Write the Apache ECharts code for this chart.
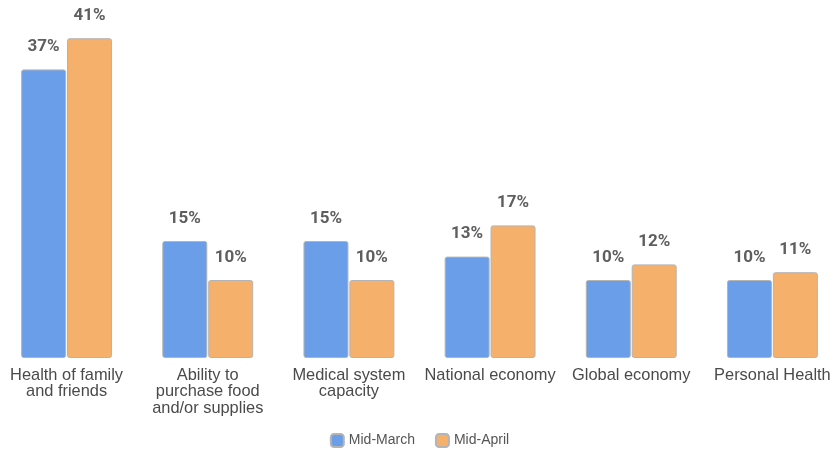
<!DOCTYPE html>
<html>
<head>
<meta charset="utf-8">
<script src="https://cdn.jsdelivr.net/npm/echarts@6/dist/echarts.min.js"></script>
<style>
  html, body { margin: 0; padding: 0; background: #fff; overflow: hidden; }
  #chart { width: 847px; height: 450px; margin-left: -4px; }
</style>
</head>
<body>
<div id="chart"></div>
<script>
// Top concerns, share of respondents (%)
const categories = [
  'Health of family\nand friends',
  'Ability to\npurchase food\nand/or supplies',
  'Medical system\ncapacity',
  'National economy',
  'Global economy',
  'Personal Health'
];
const seriesNames = ['Mid-March', 'Mid-April'];
const midMarch = [37, 15, 15, 13, 10, 10];
const midApril = [41, 10, 10, 17, 12, 11];
const colors = ['#6b9ee8', '#f5b06b'];

const chart = echarts.init(document.getElementById('chart'));

function barSeries(name, data, color) {
  return {
    name: name,
    type: 'bar',
    data: data,
    barWidth: 45,
    barGap: '2%',
    itemStyle: {
      color: color,
      borderColor: '#b4b4b4',
      borderWidth: 1,
      borderRadius: 2
    },
    label: {
      show: true,
      position: 'top',
      distance: 14,
      formatter: '{c}%',
      fontFamily: 'Roboto',
      fontWeight: 'bold',
      fontSize: 17,
      color: '#5e5e5e',
      textBorderColor: '#ffffff',
      textBorderWidth: 3
    }
  };
}

chart.setOption({
  animation: false,
  color: colors,
  grid: { left: 0, right: 0, top: 7, bottom: 92, containLabel: false },
  xAxis: {
    type: 'category',
    data: categories,
    axisLine: { show: false },
    axisTick: { show: false },
    axisLabel: {
      interval: 0,
      margin: 9,
      fontFamily: 'Liberation Sans',
      fontSize: 16.4,
      lineHeight: 16.5,
      color: '#4a4a4a'
    }
  },
  yAxis: {
    type: 'value',
    min: 0,
    max: 45,
    show: false
  },
  legend: {
    top: 428,
    left: 'center',
    icon: 'roundRect',
    itemWidth: 13,
    itemHeight: 13,
    itemGap: 20,
    textStyle: { fontFamily: 'Liberation Sans', fontSize: 14, color: '#555555' },
    data: seriesNames
  },
  series: [
    barSeries(seriesNames[0], midMarch, colors[0]),
    barSeries(seriesNames[1], midApril, colors[1])
  ]
});
</script>
</body>
</html>
